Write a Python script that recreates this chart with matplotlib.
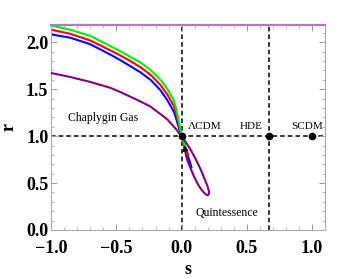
import matplotlib
matplotlib.use('Agg')
import matplotlib.pyplot as plt
from matplotlib.ticker import MultipleLocator

plt.rcParams['font.family'] = ['Liberation Serif', 'DejaVu Serif']

# statefinder trajectories: (s, r)
s_left = [-1.0, -0.854, -0.7, -0.546, -0.469, -0.392, -0.315, -0.238, -0.162,
          -0.11, -0.059, -0.04, -0.021, 0.0]
r_green = [2.18, 2.135, 2.07, 1.96, 1.905, 1.845, 1.785, 1.705, 1.60,
           1.505, 1.38, 1.28, 1.16, 1.0]
r_red = [2.135, 2.092, 2.02, 1.915, 1.86, 1.80, 1.735, 1.655, 1.545,
         1.445, 1.32, 1.23, 1.12, 1.0]
r_blue = [2.085, 2.05, 1.98, 1.87, 1.81, 1.745, 1.68, 1.60, 1.49,
          1.385, 1.26, 1.18, 1.09, 1.0]
r_purple_left = [1.673, 1.631, 1.578, 1.515, 1.47, 1.42, 1.37, 1.315, 1.235,
                 1.18, 1.10, 1.07, 1.035, 1.0]

# short tails below LCDM
s_green_tail = [0.0, 0.015, 0.03]
r_green_tail = [1.0, 0.94, 0.88]
s_red_tail = [0.0, 0.025, 0.05]
r_red_tail = [1.0, 0.90, 0.80]
s_blue_tail = [0.0, 0.02, 0.04, 0.06, 0.075]
r_blue_tail = [1.0, 0.91, 0.82, 0.74, 0.67]

# purple loop (quintessence side)
s_loop = [0.0, 0.035, 0.069, 0.11, 0.146, 0.18, 0.2, 0.21, 0.208, 0.2, 0.188,
          0.17, 0.146, 0.12, 0.095, 0.068, 0.044, 0.03, 0.023]
r_loop = [1.0, 0.93, 0.855, 0.75, 0.645, 0.53, 0.46, 0.41, 0.38, 0.37, 0.375,
          0.40, 0.44, 0.50, 0.57, 0.66, 0.74, 0.82, 0.88]

# fixed points
pt_s = [0.0, 2 / 3, 1.0]
pt_r = [1.0, 1.0, 1.0]
pt_names = ['\u039bCDM', 'HDE', 'SCDM']

fig = plt.figure(figsize=(3.5, 2.79), dpi=100)
ax = fig.add_axes([0.146, 0.176, 0.783, 0.736])

ax.axvline(0.0, color='black', ls=(0, (3, 2)), lw=1.1, zorder=1)
ax.axvline(2 / 3, color='black', ls=(0, (3, 2)), lw=1.1, zorder=1)
ax.axhline(1.0, color='black', ls=(0, (3, 2)), lw=1.1, zorder=1)

ax.plot(s_left + s_blue_tail, r_blue + r_blue_tail, color='#0000ff', lw=1.5, zorder=2)
ax.plot(s_left + s_red_tail, r_red + r_red_tail, color='#ff0000', lw=1.5, zorder=2)
ax.plot(s_left + s_green_tail, r_green + r_green_tail, color='#00ee00', lw=1.5, zorder=2)
ax.plot(s_left + s_loop, r_purple_left + r_loop, color='#800080', lw=1.5, zorder=3)

# small arrow on the returning branch
ax.annotate('', xy=(0.012, 0.93), xytext=(0.028, 0.85),
            arrowprops=dict(arrowstyle='-|>', color='black', lw=0.8,
                            mutation_scale=8), zorder=4)

ax.plot(pt_s, pt_r, 'o', color='black', ms=4.5, zorder=5)

ax.text(0.05, 1.06, pt_names[0], fontsize=8, ha='left', va='bottom')
ax.text(0.62, 1.06, pt_names[1], fontsize=8, ha='right', va='bottom')
ax.text(0.96, 1.06, pt_names[2], fontsize=8, ha='center', va='bottom')
ax.text(-0.6, 1.19, 'Chaplygin Gas', fontsize=8.5, ha='center', va='center')
ax.text(0.35, 0.18, 'Quintessence', fontsize=8.5, ha='center', va='center')

ax.set_xlim(-1.0, 1.1)
ax.set_ylim(0.0, 2.19)
ax.xaxis.set_major_locator(MultipleLocator(0.5))
ax.xaxis.set_minor_locator(MultipleLocator(0.1))
ax.yaxis.set_major_locator(MultipleLocator(0.5))
ax.yaxis.set_minor_locator(MultipleLocator(0.1))
ax.xaxis.set_major_formatter(plt.FuncFormatter(lambda v, p: f'{v:.1f}'.replace('-', '\u2212')))
ax.yaxis.set_major_formatter(plt.FuncFormatter(lambda v, p: f'{v:.1f}'))

ax.tick_params(which='both', direction='in', top=True, right=True, color='#999999')
ax.tick_params(which='major', length=4, width=0.7, labelsize=13)
ax.tick_params(which='minor', length=2, width=0.5)
ax.tick_params(axis='x', which='major', pad=7)
ax.tick_params(axis='y', which='major', pad=2)
for lab in ax.get_xticklabels() + ax.get_yticklabels():
    lab.set_fontweight('bold')

for side in ['left', 'bottom', 'right']:
    ax.spines[side].set_color('#aaaaaa')
    ax.spines[side].set_linewidth(0.8)
ax.spines['top'].set_color('#b07cc0')
ax.spines['top'].set_linewidth(1.6)

ax.set_xlabel('s', fontsize=13, fontweight='bold', labelpad=3)
ax.set_ylabel('r', fontsize=13, fontweight='bold', labelpad=6)

fig.savefig('out.png', dpi=100)
